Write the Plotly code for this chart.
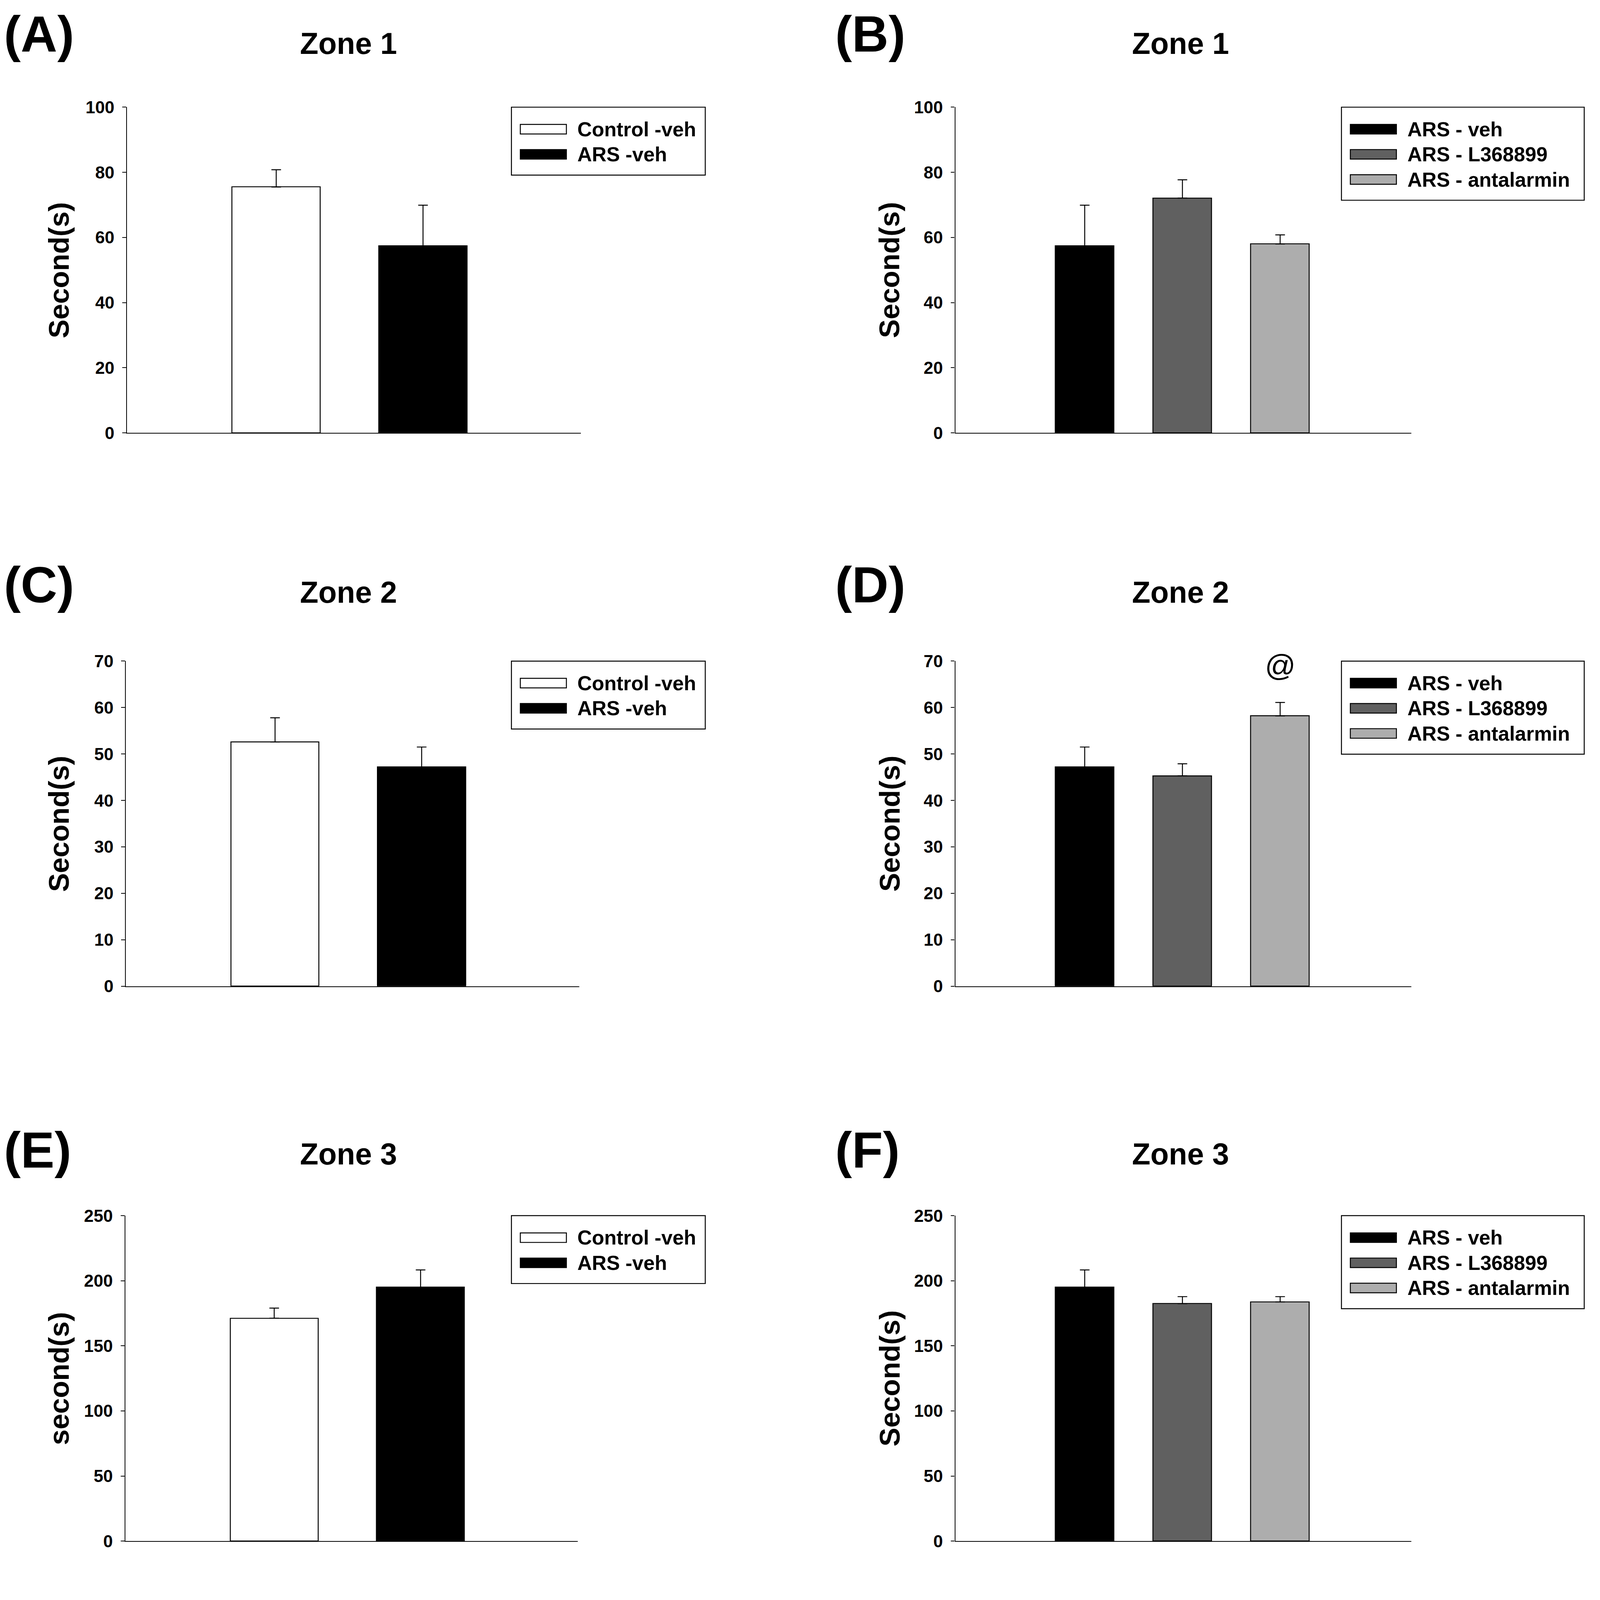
import plotly.graph_objects as go

# Reference canvas (pixels) used to place everything in paper fractions
W, H = 5000, 4870
S = 1 / 1.22          # CSS px per screenshot px (page is rendered with ~1.22 pixel ratio)
OFF = 10              # body margin offset (screenshot px)
FONT = "Liberation Sans, Arial, Helvetica, sans-serif"

# ---------------- data ----------------
left_groups = ["Control -veh", "ARS -veh"]
right_groups = ["ARS - veh", "ARS - L368899", "ARS - antalarmin"]
left_colors = ["#FFFFFF", "#000000"]
right_colors = ["#000000", "#606060", "#ADADAD"]

zone_titles = ["Zone 1", "Zone 2", "Zone 3"]
panel_letters = ["(A)", "(B)", "(C)", "(D)", "(E)", "(F)"]
y_titles = ["Second(s)", "Second(s)", "Second(s)", "Second(s)", "second(s)", "Second(s)"]
y_max = [100, 70, 250]
y_step = [20, 10, 50]

zone1_left_mean = [75.5, 57.4]
zone1_left_sem = [5.3, 12.5]
zone1_right_mean = [57.4, 72.1, 58.0]
zone1_right_sem = [12.5, 5.6, 2.8]

zone2_left_mean = [52.6, 47.2]
zone2_left_sem = [5.2, 4.3]
zone2_right_mean = [47.2, 45.3, 58.2]
zone2_right_sem = [4.3, 2.6, 2.9]

zone3_left_mean = [171.2, 195.0]
zone3_left_sem = [7.8, 13.3]
zone3_right_mean = [195.0, 182.4, 183.7]
zone3_right_sem = [13.3, 5.4, 4.1]

sig_panel = 3            # panel D (0-based index)
sig_group = "ARS - antalarmin"
sig_text = "@"
sig_y = 69.0

panels = [
    (left_groups, zone1_left_mean, zone1_left_sem, left_colors),
    (right_groups, zone1_right_mean, zone1_right_sem, right_colors),
    (left_groups, zone2_left_mean, zone2_left_sem, left_colors),
    (right_groups, zone2_right_mean, zone2_right_sem, right_colors),
    (left_groups, zone3_left_mean, zone3_left_sem, left_colors),
    (right_groups, zone3_right_mean, zone3_right_sem, right_colors),
]

# ---------------- layout geometry (reference pixels) ----------------
# measured page mapping: shown = 1.007*x - 9.6 ; shown = 1.0185*y + 32
def fx(px):
    return ((px + 9.6) / 1.007 - OFF) / W


def fy(py):
    return 1 - ((py - 32) / 1.0185 - OFF) / H


def sz(v):
    return v * S


row_top = [338, 2076, 3816]
row_bot = [1360, 3096, 4837]
left_dom = [(390, 1818), (387, 1813), (385, 1809)]
right_dom = (2997, 4432)
title_y = [138, 1860, 3622]
letter_y = [108, 1837, 3610]
title_x = [1087, 3706]
letter_x = [0, 2616]
ylab_x = [176, 2790]
legend_left = [1600, 4212]
legend_width = [610, 764]

fig = go.Figure()
layout = {}
shapes = []
annotations = []

for i, (groups, mean, sem, colors) in enumerate(panels):
    r, c = divmod(i, 2)
    n = i + 1
    sfx = "" if n == 1 else str(n)
    xa, ya = "x" + sfx, "y" + sfx

    fig.add_trace(go.Bar(
        x=groups, y=mean, width=0.6,
        marker=dict(color=colors, line=dict(color="black", width=sz(3))),
        error_y=dict(type="data", array=sem, arrayminus=[0] * len(sem),
                     symmetric=False, color="black", thickness=sz(3), width=sz(15)),
        xaxis=xa, yaxis=ya, showlegend=False, hoverinfo="skip",
    ))

    x0, x1 = left_dom[r] if c == 0 else right_dom
    xrange = [-1.017, 2.074] if c == 0 else [-1.324, 3.343]
    layout["xaxis" + sfx] = dict(
        domain=[fx(x0), fx(x1)], range=xrange, type="category",
        categoryorder="array", categoryarray=groups,
        anchor=ya, showline=True, linecolor="black", linewidth=sz(3),
        ticks="", showticklabels=False, showgrid=False, zeroline=False,
    )
    layout["yaxis" + sfx] = dict(
        domain=[fy(row_bot[r]), fy(row_top[r])], range=[0, y_max[r]],
        tick0=0, dtick=y_step[r], anchor=xa,
        showline=True, linecolor="black", linewidth=sz(3),
        ticks="outside", ticklen=sz(12), tickwidth=sz(3), tickcolor="black",
        ticklabelstandoff=int(round(sz(14))),
        tickfont=dict(family=FONT, size=sz(54), color="black", weight="bold"),
        showgrid=False, zeroline=False,
    )

    # panel letter
    annotations.append(dict(
        text=panel_letters[i], xref="paper", yref="paper",
        x=fx(letter_x[c]), y=fy(letter_y[r]), xanchor="left", yanchor="middle",
        showarrow=False, font=dict(family=FONT, size=sz(158), color="black", weight="bold"),
    ))
    # title
    annotations.append(dict(
        text=zone_titles[r], xref="paper", yref="paper",
        x=fx(title_x[c]), y=fy(title_y[r]), xanchor="center", yanchor="middle",
        showarrow=False, font=dict(family=FONT, size=sz(94), color="black", weight="bold"),
    ))
    # y title
    annotations.append(dict(
        text=y_titles[i], xref="paper", yref="paper", textangle=-90,
        x=fx(ylab_x[c]), y=fy((row_top[r] + row_bot[r]) / 2),
        xanchor="center", yanchor="middle", showarrow=False,
        font=dict(family=FONT, size=sz(88), color="black", weight="bold"),
    ))

    # legend box
    bl = legend_left[c]
    bt = row_top[r]
    nrow = len(groups)
    bb = bt + 69 + (nrow - 1) * 79 + 65
    shapes.append(dict(type="rect", xref="paper", yref="paper",
                       x0=fx(bl), x1=fx(bl + legend_width[c]), y0=fy(bb), y1=fy(bt),
                       line=dict(color="black", width=sz(3)), fillcolor="rgba(0,0,0,0)"))
    for k, g in enumerate(groups):
        cy = bt + 69 + k * 79
        shapes.append(dict(type="rect", xref="paper", yref="paper",
                           x0=fx(bl + 28), x1=fx(bl + 173), y0=fy(cy + 15), y1=fy(cy - 15),
                           line=dict(color="black", width=sz(3)), fillcolor=colors[k]))
        annotations.append(dict(
            text=g, xref="paper", yref="paper", x=fx(bl + 205), y=fy(cy),
            xanchor="left", yanchor="middle", showarrow=False,
            font=dict(family=FONT, size=sz(63), color="black", weight="bold"),
        ))

    if i == sig_panel:
        annotations.append(dict(
            text=sig_text, xref=xa, yref=ya, x=sig_group, y=sig_y,
            xanchor="center", yanchor="middle", showarrow=False,
            font=dict(family=FONT, size=sz(95), color="black"),
        ))

fig.update_layout(**layout)
fig.update_layout(
    autosize=True,
    margin=dict(l=0, r=0, t=0, b=0, pad=0),
    paper_bgcolor="white", plot_bgcolor="white",
    shapes=shapes, annotations=annotations, bargap=0,
)

fig.write_html("out.html", default_width="100vw", default_height="100vh",
               config={"displayModeBar": False})
